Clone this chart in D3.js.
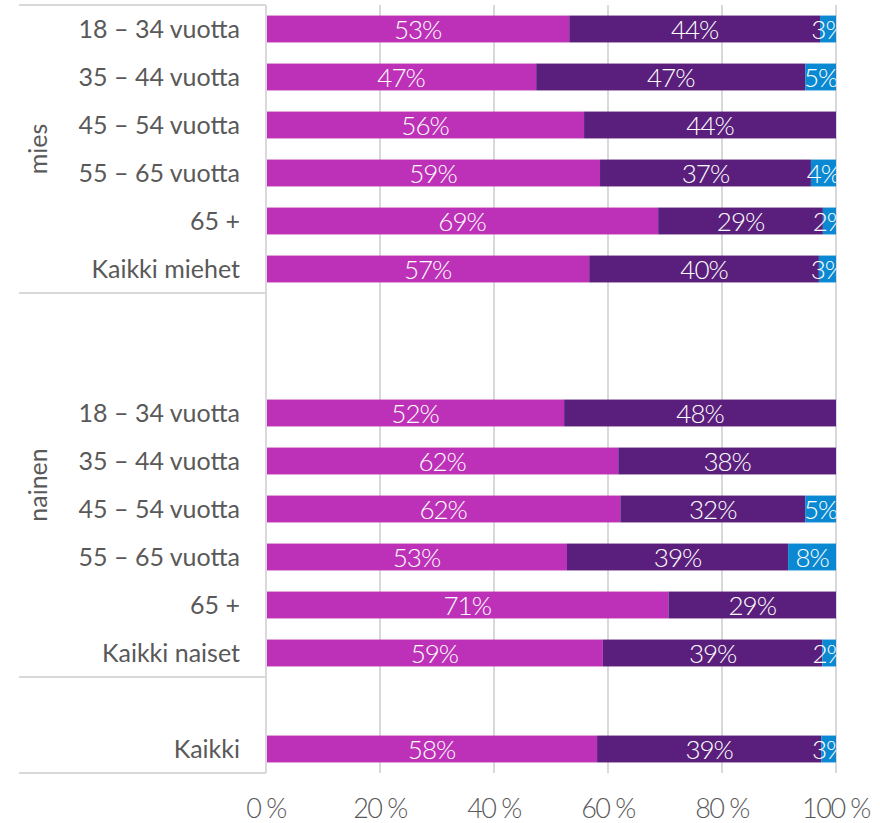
<!DOCTYPE html>
<html>
<head>
<meta charset="utf-8">
<script src="https://cdn.jsdelivr.net/npm/d3@7"></script>
<style>
  body { margin: 0; background: #fff; }
  svg text { font-family: Lato, "Open Sans", sans-serif; }
</style>
</head>
<body>
<svg id="chart"></svg>
<script>
// rows of the chart, top to bottom ("gap" rows are empty spacers)
const categories = [
  "mies|18 – 34 vuotta", "mies|35 – 44 vuotta", "mies|45 – 54 vuotta", "mies|55 – 65 vuotta", "mies|65 +", "mies|Kaikki miehet",
  "gap1", "gap2",
  "nainen|18 – 34 vuotta", "nainen|35 – 44 vuotta", "nainen|45 – 54 vuotta", "nainen|55 – 65 vuotta", "nainen|65 +", "nainen|Kaikki naiset",
  "gap3",
  "kaikki|Kaikki"
];
const groups = ["mies", "nainen"];

// shares in percent, in the same order as the non-spacer rows
const seriesMagenta = [53.2, 47.4, 55.8, 58.6, 68.8, 56.7, 52.3, 61.8, 62.1, 52.8, 70.6, 59.1, 58.2];
const seriesPurple  = [44.0, 47.2, 44.2, 37.0, 28.9, 40.3, 47.7, 38.2, 32.4, 38.8, 29.4, 38.5, 39.4];
const seriesBlue    = [ 2.8,  5.4,  0.0,  4.4,  2.3,  3.0,  0.0,  0.0,  5.4,  8.4,  0.0,  2.4,  2.6];

const xTicks = [0, 20, 40, 60, 80, 100];
const colors = ["#bd31b8", "#5a1f7c", "#0a89d2"];

const width = 880, height = 823;
const margin = { top: 5, right: 44, bottom: 50, left: 266 };

const svg = d3.select("#chart").attr("width", width).attr("height", height);

const rows = categories.filter(c => !c.startsWith("gap"));
const data = rows.map((key, i) => {
  const total = seriesMagenta[i] + seriesPurple[i] + seriesBlue[i];
  return { key, magenta: seriesMagenta[i], purple: seriesPurple[i], blue: seriesBlue[i], total };
});

const x = d3.scaleLinear().domain([0, 100]).range([margin.left, width - margin.right]);
const y = d3.scaleBand().domain(categories)
  .range([margin.top, height - margin.bottom])
  .paddingInner(0.44).paddingOuter(0.22);

const grid = "#d9d9d9";
const half = (y.step() - y.bandwidth()) / 2;

// vertical gridlines
svg.append("g")
  .selectAll("line")
  .data(xTicks)
  .join("line")
    .attr("x1", d => x(d)).attr("x2", d => x(d))
    .attr("y1", margin.top).attr("y2", height - margin.bottom)
    .attr("stroke", grid).attr("stroke-width", 2);

// separators on the left side
const sepY = [margin.top, y("gap1") - half, y("gap3") - half, height - margin.bottom];
svg.append("g")
  .selectAll("line")
  .data(sepY)
  .join("line")
    .attr("x1", 19).attr("x2", margin.left)
    .attr("y1", d => d).attr("y2", d => d)
    .attr("stroke", grid).attr("stroke-width", 2);

// stacked bars
const keys = ["magenta", "purple", "blue"];
const stacked = d3.stack().keys(keys)
  .value((d, k) => d[k] / d.total * 100)(data);

svg.append("clipPath").attr("id", "plotclip")
  .append("rect")
    .attr("x", x(0)).attr("y", 0)
    .attr("width", x(100) - x(0)).attr("height", height);

const layers = svg.append("g")
  .selectAll("g")
  .data(stacked)
  .join("g")
    .attr("fill", (d, i) => colors[i]);

layers.selectAll("rect")
  .data(d => d)
  .join("rect")
    .attr("x", d => x(d[0]))
    .attr("y", d => y(d.data.key))
    .attr("width", d => x(d[1]) - x(d[0]))
    .attr("height", y.bandwidth());

// value labels
const labels = svg.append("g").attr("clip-path", "url(#plotclip)");
stacked.forEach(layer => {
  labels.selectAll(null)
    .data(layer.filter(d => d.data[layer.key] > 0))
    .join("text")
      .attr("x", d => (x(d[0]) + x(d[1])) / 2)
      .attr("y", d => y(d.data.key) + y.bandwidth() / 2 + 9.5)
      .attr("text-anchor", "middle")
      .attr("fill", "#fff")
      .style("font-size", "26px")
      .style("font-weight", 300)
      .style("letter-spacing", "-1px")
      .text(d => Math.round(d.data[layer.key]) + "%");
});

// axis line
svg.append("line")
  .attr("x1", x(0)).attr("x2", x(0))
  .attr("y1", margin.top).attr("y2", height - margin.bottom)
  .attr("stroke", grid).attr("stroke-width", 2);

// category labels
svg.append("g")
  .selectAll("text")
  .data(rows)
  .join("text")
    .attr("x", x(0) - 26)
    .attr("y", d => y(d) + y.bandwidth() / 2 + 9)
    .attr("text-anchor", "end")
    .attr("fill", "#595959")
    .style("font-size", "25px")
    .text(d => d.split("|")[1]);

// group labels, centred between separators
groups.forEach((g, i) => {
  svg.append("text")
    .attr("transform", `translate(47,${(sepY[i] + sepY[i + 1]) / 2}) rotate(-90)`)
    .attr("text-anchor", "middle")
    .attr("fill", "#595959")
    .style("font-size", "25px")
    .text(g);
});

// x axis tick labels
svg.append("g")
  .selectAll("text")
  .data(xTicks)
  .join("text")
    .attr("x", d => x(d))
    .attr("y", 818)
    .attr("text-anchor", "middle")
    .attr("fill", "#595959")
    .style("font-size", "27px")
    .style("font-weight", 300)
    .style("letter-spacing", "-1.5px")
    .text(d => d + " %");
</script>
</body>
</html>
